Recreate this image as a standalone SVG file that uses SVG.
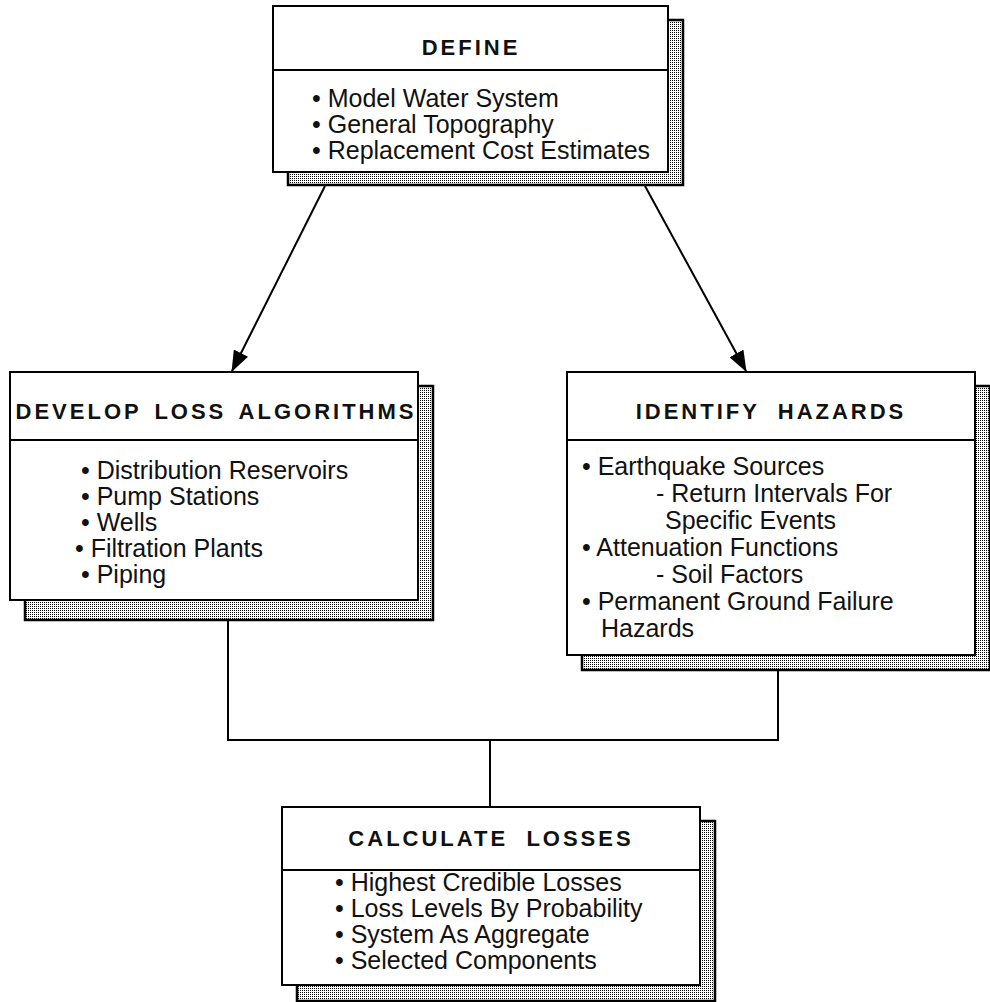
<svg xmlns="http://www.w3.org/2000/svg" width="990" height="1002" viewBox="0 0 990 1002">
<defs>
<pattern id="dots" width="2" height="2" patternUnits="userSpaceOnUse">
<rect width="2" height="2" fill="#ffffff"/>
<rect width="1" height="1" fill="#000000"/>
</pattern>
<marker id="arr" markerWidth="22" markerHeight="16" refX="20" refY="8" orient="auto" markerUnits="userSpaceOnUse">
<path d="M0,0 L21,8 L0,16 Z" fill="#000"/>
</marker>
</defs>
<style>
.shadow{fill:url(#dots);stroke:#000;stroke-width:2.5}
.box{fill:#fff;stroke:#000;stroke-width:2}
.div{stroke:#000;stroke-width:2}
.title{font-family:"Liberation Sans",Arial,sans-serif;font-weight:bold;font-size:22px;letter-spacing:3px;text-anchor:middle;fill:#111}
.body{font-family:"Liberation Sans",Arial,sans-serif;font-size:25px;fill:#111}
.conn{fill:none;stroke:#000;stroke-width:2}
</style>
<rect width="990" height="1002" fill="#fff"/>

<g id="define">
<rect class="shadow" x="288" y="20" width="395" height="165"/>
<rect class="box" x="273" y="6" width="395" height="166"/>
<line class="div" x1="273" y1="70" x2="668" y2="70"/>
<text class="title" x="471" y="55">DEFINE</text>
<text class="body" x="312" y="107">•  Model Water System</text>
<text class="body" x="312" y="133">•  General Topography</text>
<text class="body" x="312" y="159">•  Replacement Cost Estimates</text>
</g>

<g id="develop">
<rect class="shadow" x="25" y="386" width="408" height="234"/>
<rect class="box" x="10" y="372" width="408" height="228"/>
<line class="div" x1="10" y1="440" x2="418" y2="440"/>
<text class="title" x="216" y="419" style="word-spacing:4px">DEVELOP LOSS ALGORITHMS</text>
<text class="body" x="81" y="479">•  Distribution Reservoirs</text>
<text class="body" x="81" y="505">•  Pump Stations</text>
<text class="body" x="81" y="531">•  Wells</text>
<text class="body" x="75" y="557">• Filtration  Plants</text>
<text class="body" x="81" y="583">•  Piping</text>
</g>

<g id="identify">
<rect class="shadow" x="582" y="386" width="408" height="284"/>
<rect class="box" x="567" y="372" width="408" height="283"/>
<line class="div" x1="567" y1="440" x2="975" y2="440"/>
<text class="title" x="771" y="419" xml:space="preserve">IDENTIFY  HAZARDS</text>
<text class="body" x="582" y="475">•  Earthquake Sources</text>
<text class="body" x="656" y="502">-  Return Intervals For</text>
<text class="body" x="665" y="529">Specific Events</text>
<text class="body" x="582" y="556">•  Attenuation Functions</text>
<text class="body" x="656" y="583">-  Soil Factors</text>
<text class="body" x="582" y="610">•  Permanent Ground Failure</text>
<text class="body" x="601" y="637">Hazards</text>
</g>

<g id="calculate">
<rect class="shadow" x="297" y="821" width="418" height="180"/>
<rect class="box" x="282" y="807" width="418" height="178"/>
<line class="div" x1="282" y1="870" x2="700" y2="870"/>
<text class="title" x="491" y="846" xml:space="preserve">CALCULATE  LOSSES</text>
<text class="body" x="335" y="891">•  Highest Credible Losses</text>
<text class="body" x="335" y="917">•  Loss Levels By Probability</text>
<text class="body" x="335" y="943">•  System As Aggregate</text>
<text class="body" x="335" y="969">•  Selected Components</text>
</g>

<g id="connectors">
<line class="conn" x1="325" y1="186" x2="232" y2="371" marker-end="url(#arr)"/>
<line class="conn" x1="645" y1="186" x2="746" y2="371" marker-end="url(#arr)"/>
<polyline class="conn" points="228,621 228,740 778,740 778,671"/>
<line class="conn" x1="490" y1="740" x2="490" y2="807"/>
</g>
</svg>
